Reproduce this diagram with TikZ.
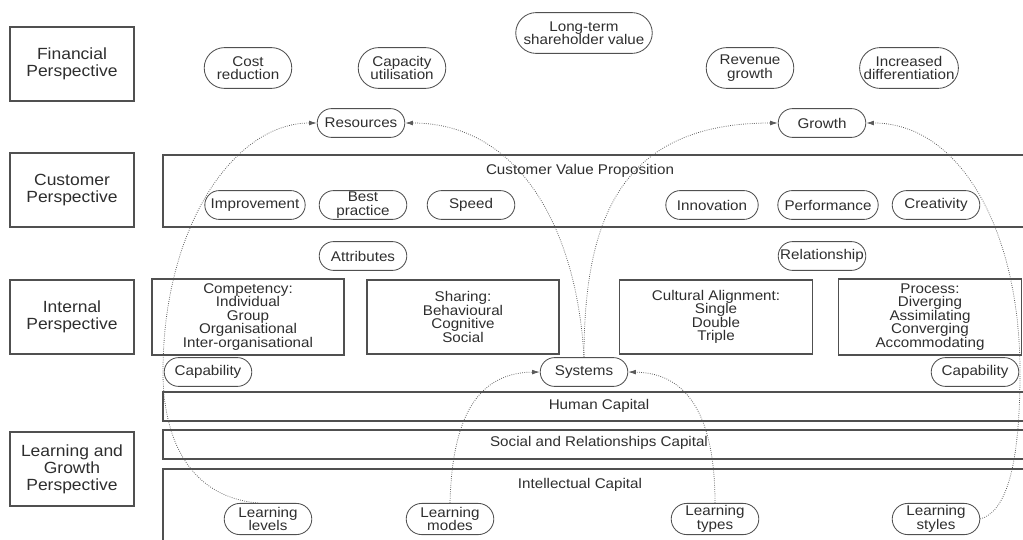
\documentclass[tikz,border=0pt]{standalone}
\usepackage{fontspec}
\setmainfont{Liberation Sans}[FakeStretch=1.08]
\usetikzlibrary{shapes.misc,arrows.meta}
\definecolor{inkgray}{HTML}{2E2E2E}
\definecolor{linegray}{HTML}{505050}
\definecolor{curvegray}{HTML}{5A5A5A}

\begin{document}
\begin{tikzpicture}[x=0.025cm, y=-0.025cm,
    every node/.style={text=inkgray, font=\fontsize{10}{9.6}\selectfont},
    persp/.style={draw=linegray, line width=0.9pt, minimum width=3.1cm, minimum height=1.85cm, align=center, font=\fontsize{11.5}{12}\selectfont},
    listbox/.style={draw=linegray, line width=0.9pt, minimum height=1.85cm, align=center},
    pill/.style={rounded rectangle, draw=linegray, line width=0.6pt, minimum width=2.4cm, minimum height=0.72cm, inner xsep=3pt, inner ysep=0.5pt, align=center},
    twoline/.style={minimum height=1.02cm},
    link/.style={draw=curvegray, densely dotted, line width=0.55pt, -{Latex[length=5.5pt,width=3.4pt]}}]
    \useasboundingbox (0,0) rectangle (1023,539);
    \clip (0,0) rectangle (1023,539);

    % Perspectives
    \node[persp] (fin) at (72,64) {Financial\\Perspective};
    \node[persp] (cus) at (72,190) {Customer\\Perspective};
    \node[persp] (int) at (72,317) {Internal\\Perspective};
    \node[persp] (lrn) at (72,469) {Learning and\\Growth\\Perspective};

    % Financial
    \node[pill, minimum width=3.3cm, twoline] (ltv) at (584,33) {Long-term\\shareholder value};
    \node[pill, twoline] (cost) at (248,68) {Cost\\reduction};
    \node[pill, twoline] (cap) at (402,68) {Capacity\\utilisation};
    \node[pill, twoline] (rev) at (750,68) {Revenue\\growth};
    \node[pill, twoline, minimum width=2.68cm] (diff) at (909,68) {Increased\\differentiation};
    \node[pill] (res) at (361,123) {Resources};
    \node[pill] (grw) at (822,123) {Growth};

    % Customer
    \draw[linegray, line width=0.9pt] (163,155) rectangle (1040,227);
    \node (cvp) at (580,171) {Customer Value Proposition};
    \node[pill, minimum width=2.72cm] (imp) at (255,205) {Improvement};
    \node[pill] (best) at (363,205) {Best\\practice};
    \node[pill] (spd) at (471,205) {Speed};
    \node[pill, minimum width=2.52cm] (inn) at (712,205) {Innovation};
    \node[pill, minimum width=2.72cm] (perf) at (828,205) {Performance};
    \node[pill] (crea) at (936,205) {Creativity};

    % Internal
    \node[pill] (attr) at (363,256) {Attributes};
    \node[pill] (rel) at (822,256) {Relationship};
    \node[listbox, minimum width=4.8cm] (comp) at (248,317) {Competency:\\Individual\\Group\\Organisational\\Inter-organisational};
    \node[listbox, minimum width=4.8cm] (shar) at (463,317) {Sharing:\\Behavioural\\Cognitive\\Social};
    \node[listbox, minimum width=4.82cm] (cult) at (716,317) {Cultural Alignment:\\Single\\Double\\Triple};
    \node[listbox, minimum width=4.58cm] (proc) at (930,317) {Process:\\Diverging\\Assimilating\\Converging\\Accommodating};
    \node[pill] (capl) at (208,372) {Capability};
    \node[pill] (sys) at (584,372) {Systems};
    \node[pill] (capr) at (975,372) {Capability};

    % Learning and growth
    \draw[linegray, line width=0.9pt] (163,392) rectangle (1040,421);
    \draw[linegray, line width=0.9pt] (163,430) rectangle (1040,459);
    \draw[linegray, line width=0.9pt] (163,469) rectangle (1040,560);
    \node (hum) at (599,406) {Human Capital};
    \node (soc) at (599,443) {Social and Relationships Capital};
    \node (intl) at (580,485) {Intellectual Capital};
    \node[pill, minimum height=0.78cm] (lvl) at (268,519) {Learning\\levels};
    \node[pill, minimum height=0.78cm] (mod) at (450,519) {Learning\\modes};
    \node[pill, minimum height=0.78cm] (typ) at (715,519) {Learning\\types};
    \node[pill, minimum height=0.78cm] (sty) at (936,519) {Learning\\styles};

    % Links
    \coordinate (lbend) at (163,372);
    \coordinate (rbend) at (1020,372);
    \draw[link] ([xshift=-0.25cm]lvl.north) .. controls (190,497) and (163,440) .. (lbend)
        .. controls (163,225) and (235,123) .. (res.west);
    \draw[link] (sys.north) .. controls (577,230) and (520,123) .. (res.east);
    \draw[link] (sys.north) .. controls (584,220) and (620,123) .. (grw.west);
    \draw[link] (sty.east) .. controls (1005,512) and (1020,470) .. (rbend)
        .. controls (1020,230) and (960,123) .. (grw.east);
    \draw[link] (mod.north) .. controls (452,430) and (470,373) .. (sys.west);
    \draw[link] (typ.north) .. controls (715,420) and (690,373) .. (sys.east);
\end{tikzpicture}
\end{document}
